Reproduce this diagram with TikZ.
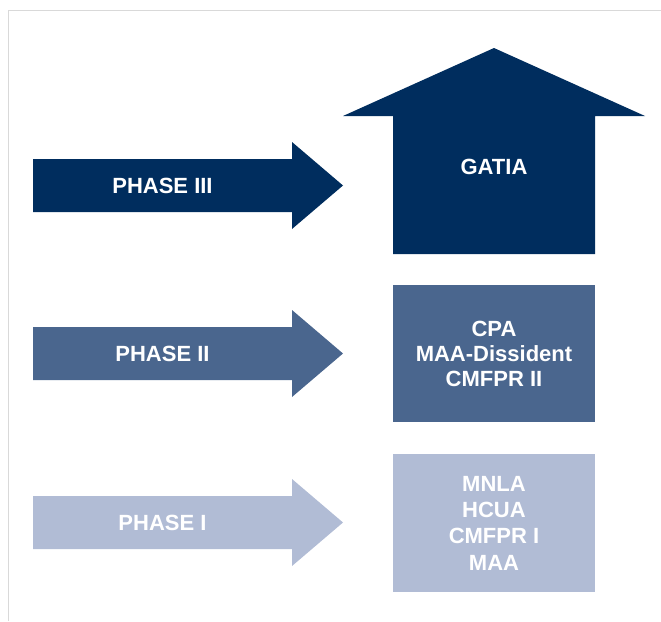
\documentclass[tikz,border=0pt]{standalone}
\usepackage{fontspec}
\setmainfont{Liberation Sans}

\definecolor{navy}{HTML}{002D5E}
\definecolor{steel}{HTML}{4A668E}
\definecolor{mist}{HTML}{B1BCD5}
\definecolor{framegray}{HTML}{D9D9D9}

\begin{document}
\begin{tikzpicture}[x=1pt,y=-1pt,
  caption/.style={text=white,inner sep=0pt,
    font=\fontsize{22}{26}\selectfont\bfseries},
  groupbox/.style={caption,align=center,minimum width=202pt},
  pics/phasearrow/.style={code={
    \fill[#1] (33,-26.5) -- (292,-26.5) -- (292,-43.5) -- (343,0)
      -- (292,43.5) -- (292,26.5) -- (33,26.5) -- cycle;}}]
\useasboundingbox (0,0) rectangle (661,621);

% page frame
\draw[framegray,line width=1.4pt] (8.5,621) -- (8.5,10.5) -- (661,10.5);

% phase arrows
\pic at (0,185.5) {phasearrow=navy};
\pic at (0,353.5) {phasearrow=steel};
\pic at (0,522.5) {phasearrow=mist};
\node[caption] (phase3) at (162.5,186) {PHASE III};
\node[caption] (phase2) at (162.5,354) {PHASE II};
\node[caption] (phase1) at (162.5,523) {PHASE I};

% GATIA: upward block arrow
\fill[navy] (393,254) -- (393,116) -- (343,116) -- (494,48)
  -- (645,116) -- (595,116) -- (595,254) -- cycle;
\node[caption] (gatia) at (494,167) {GATIA};

% groups of phases II and I
\node[groupbox,fill=steel,minimum height=137pt,
  font=\fontsize{22}{25}\selectfont\bfseries] (group2) at (494,353.5)
  {CPA\\MAA-Dissident\\CMFPR II};
\node[groupbox,fill=mist,minimum height=138pt,
  font=\fontsize{22}{26.3}\selectfont\bfseries] (group1) at (494,523)
  {MNLA\\HCUA\\CMFPR I\\MAA};
\end{tikzpicture}
\end{document}
